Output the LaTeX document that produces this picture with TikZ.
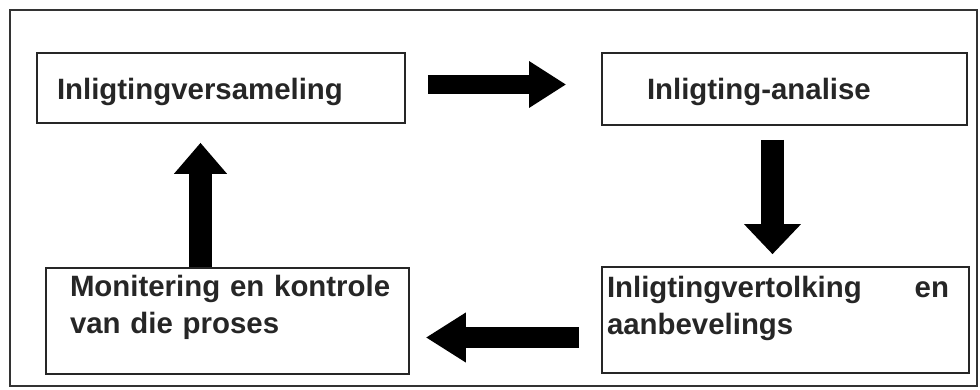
\documentclass[tikz,border=0pt]{standalone}
\usepackage{fontspec}
\setmainfont{Liberation Sans}
\usetikzlibrary{arrows.meta}

\begin{document}
\begin{tikzpicture}[x=1pt,y=1pt,
    stap/.style={draw=black!85, line width=1.6pt, inner ysep=0pt, align=left,
      text=black!85, font=\bfseries\fontsize{29.4}{37.5}\selectfont},
    pyl/.style={draw=black, line cap=butt}]

  \useasboundingbox (0,0) rectangle (980,389);
  \draw[line width=1.2pt, black!80] (10,3) rectangle (977,379);

  \begin{scope}[every node/.style={stap}]
    \node[inner xsep=20pt, text width=328pt, text height=47pt, text depth=23pt] (s1) at (221,301) {Inligtingversameling};
    \node[inner xsep=45pt, text width=275pt, text height=47pt, text depth=25pt] (s2) at (784.5,300) {Inligting-analise};
    \node[inner xsep=24pt, text width=315pt, text height=28pt, text depth=78pt] (s3) at (227.5,68) {\mbox{Monitering en kontrole}\\van die proses};
    \node[inner xsep=5pt, text width=357pt, text height=30pt, text depth=76pt] (s4) at (785.5,69) {\hbox to 342pt{Inligtingvertolking\hfil en}\\aanbevelings};
  \end{scope}

  % block arrows round the cycle
  \draw[pyl, line width=19pt, shorten <=22pt, shorten >=35pt, -{Triangle[length=37pt,width=44pt]}]
    ([yshift=3.5pt]s1.east) -- ([yshift=3.5pt]s1.east -| s2.west);
  \draw[pyl, line width=23pt, shorten <=14pt, shorten >=12pt, -{Triangle[length=30pt,width=55pt]}]
    ([xshift=-12pt]s2.south) -- ([xshift=-12pt]s2.south |- s4.north);
  \draw[pyl, line width=21pt, shorten <=22pt, shorten >=16pt, -{Triangle[length=40pt,width=47pt]}]
    ([yshift=-17.5pt]s4.west) -- ([yshift=-17.5pt]s4.west -| s3.east);
  \draw[pyl, line width=23pt, shorten >=19pt, -{Triangle[length=31pt,width=51pt]}]
    ([xshift=-27pt]s3.north) -- ([xshift=-27pt]s3.north |- s1.south);

\end{tikzpicture}
\end{document}
